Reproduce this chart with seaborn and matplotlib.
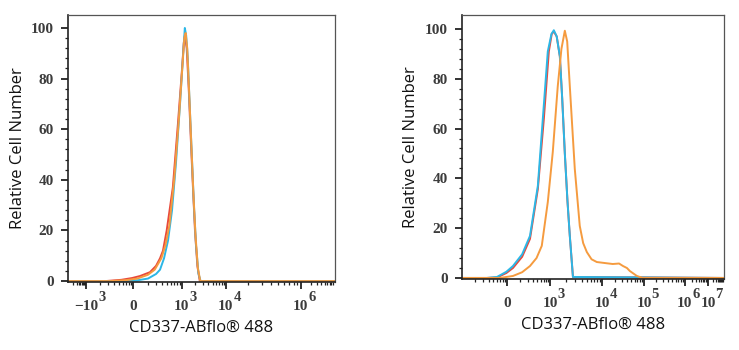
import numpy as np
import pandas as pd
import matplotlib
matplotlib.use("Agg")
import matplotlib.pyplot as plt
import seaborn as sns

# x values are positions along the (biexponential) channel axis, 0-100 across the plot box
left_red_x = [0, 14, 20, 24, 27, 30.7, 33, 34.5, 35.6, 37, 39.3, 41.2, 42.7, 43.4, 43.8, 44.5, 45.3, 46, 46.8, 47.6, 48.5, 49.4, 100]
left_red_y = [0, 0, 0.5, 1.2, 2.0, 3.5, 6, 9, 12, 20, 37, 62, 83, 94, 97, 92, 75, 57, 38, 20, 6, 0, 0]
left_orange_x = [0, 16, 22, 26, 30, 32.5, 35, 36.5, 38, 39.8, 41.5, 42.9, 43.6, 44.1, 44.7, 45.4, 46.2, 47, 47.8, 48.7, 49.6, 100]
left_orange_y = [0, 0, 0.4, 1.0, 2.5, 4.5, 9, 14, 22, 40, 63, 85, 96, 98, 92, 75, 55, 35, 18, 5, 0, 0]
left_cyan_x = [0, 20, 26, 30, 33, 34.5, 36, 37.5, 39, 40.5, 42, 43.3, 43.8, 44.3, 44.9, 45.6, 46.4, 47.2, 48, 48.9, 49.7, 100]
left_cyan_y = [0, 0, 0.3, 1.0, 2.8, 4.5, 9, 16, 28, 47, 70, 92, 100, 97, 88, 70, 50, 30, 14, 3, 0, 0]

right_red_x = [0, 9.5, 13.4, 17, 19.5, 23, 26, 29, 31.3, 33.2, 34.3, 35.1, 36.2, 37.4, 38.3, 39.3, 40.3, 41.2, 42.4, 100]
right_red_y = [0, 0, 0.2, 2, 4, 8.5, 15.7, 35.7, 64, 91, 98, 99, 97, 89, 72, 50, 31, 16.9, 0.4, 0]
right_cyan_x = [0, 9.5, 13.4, 17, 19.5, 23, 26, 29, 30.9, 32.8, 34.2, 35.1, 36.2, 37.4, 38.3, 39.3, 40.3, 41.2, 42.4, 100]
right_cyan_y = [0, 0, 0.4, 2.5, 4.8, 9.5, 16.9, 37, 64, 91, 98, 99.5, 97, 89, 72, 50, 31, 16.9, 0.4, 0]
right_orange_x = [0, 14.5, 19.5, 23, 26, 28.5, 30.5, 32.8, 34.7, 36.6, 38, 39.3, 40.2, 41.2, 43.1, 45, 46.3, 47.7,
                  49.5, 51.5, 54.5, 57.6, 60, 61.5, 63, 64.1, 66.8, 69, 100]
right_orange_y = [0, 0, 0.8, 2.3, 4.8, 8, 12.9, 30.5, 50.6, 77, 92, 99.3, 95, 77, 43.8, 20.9, 14, 10.4,
                  7.5, 6.4, 6.0, 5.6, 5.8, 4.8, 4, 2.8, 0.8, 0, 0]

# tick positions (base of label), base text and exponent text
left_tick_pos = [6.7, 24.4, 42.7, 59.2, 87.3]
left_tick_base = ["\u221210", "0", "10", "10", "10"]
left_tick_exp = ["3", "", "3", "4", "6"]
right_tick_pos = [17.2, 33.8, 53.6, 69.5, 85.0, 94.0]
right_tick_base = ["0", "10", "10", "10", "10", "10"]
right_tick_exp = ["", "3", "4", "5", "6", "7"]

y_ticks = [0, 20, 40, 60, 80, 100]
x_label = "CD337-ABflo® 488"
y_label = "Relative Cell Number"

colors = {"red": "#E8493B", "cyan": "#2CB7E6", "orange": "#F59B3F"}


def to_frame(series):
    parts = []
    for name, (xs, ys) in series.items():
        parts.append(pd.DataFrame({"x": xs, "y": ys, "sample": name}))
    return pd.concat(parts, ignore_index=True)


left_df = to_frame({"red": (left_red_x, left_red_y),
                    "cyan": (left_cyan_x, left_cyan_y),
                    "orange": (left_orange_x, left_orange_y)})
right_df = to_frame({"red": (right_red_x, right_red_y),
                     "cyan": (right_cyan_x, right_cyan_y),
                     "orange": (right_orange_x, right_orange_y)})

sns.set_style("ticks")

fig = plt.figure(figsize=(7.39, 3.5), dpi=100)
ax1 = fig.add_axes([0.092, 0.194, 0.361, 0.763])
ax2 = fig.add_axes([0.625, 0.203, 0.3545, 0.754])

serif = dict(family="Liberation Serif", weight="bold", color="#3c3c3c")


def minor_positions(majors, lo, hi):
    # log-decade style minor ticks between majors
    pts = []
    edges = [lo] + list(majors) + [hi]
    for a, b in zip(edges[:-1], edges[1:]):
        for k in range(2, 10):
            p = a + (b - a) * np.log10(k)
            if lo < p < hi:
                pts.append(p)
    return pts


panels = [(ax1, left_df, left_tick_pos, left_tick_base, left_tick_exp, 105.1),
          (ax2, right_df, right_tick_pos, right_tick_base, right_tick_exp, 105.6)]

for ax, df, pos, bases, exps, ytop in panels:
    sns.lineplot(data=df, x="x", y="y", hue="sample", hue_order=["red", "cyan", "orange"],
                 palette=colors, estimator=None, sort=False, legend=False, linewidth=1.4, ax=ax)
    ax.set_xlim(0, 100)
    ax.set_ylim(-0.4, ytop)
    ax.set_xticks(pos)
    ax.set_xticklabels(bases)
    ax.set_xticks(minor_positions(pos, 0, 100), minor=True)
    ax.set_yticks(y_ticks)
    ax.set_yticks(np.arange(0, 101, 4), minor=True)
    ax.tick_params(axis="both", which="major", direction="out", length=5, width=1.3,
                   color="#222222", labelsize=11)
    ax.tick_params(axis="both", which="minor", direction="out", length=2.5, width=0.9, color="#222222")
    ax.tick_params(axis="x", which="major", pad=8)
    ax.tick_params(axis="y", which="major", pad=5)
    for lab in ax.get_xticklabels() + ax.get_yticklabels():
        lab.set_fontfamily(serif["family"])
        lab.set_fontweight(serif["weight"])
        lab.set_color(serif["color"])
    # exponents drawn next to the tick labels
    trans = ax.get_xaxis_transform()
    for p, b, e in zip(pos, bases, exps):
        if not e:
            continue
        dx = 11.5 if b.startswith("\u2212") else 8.0
        ax.annotate(e, xy=(p, 0), xycoords=trans, xytext=(dx, -11.2), textcoords="offset points",
                    ha="center", va="center", fontsize=10.5, annotation_clip=False, **serif)
    for side in ["top", "right"]:
        ax.spines[side].set_visible(True)
        ax.spines[side].set_color("#555555")
        ax.spines[side].set_linewidth(0.9)
    for side in ["left", "bottom"]:
        ax.spines[side].set_color("#222222")
        ax.spines[side].set_linewidth(1.2)
    ax.set_xlabel(x_label, fontsize=12, family="Open Sans", color="#111111", labelpad=5)
    ax.set_ylabel(y_label, fontsize=12, family="Open Sans", color="#111111", labelpad=4)

fig.savefig("out.png", dpi=100)
